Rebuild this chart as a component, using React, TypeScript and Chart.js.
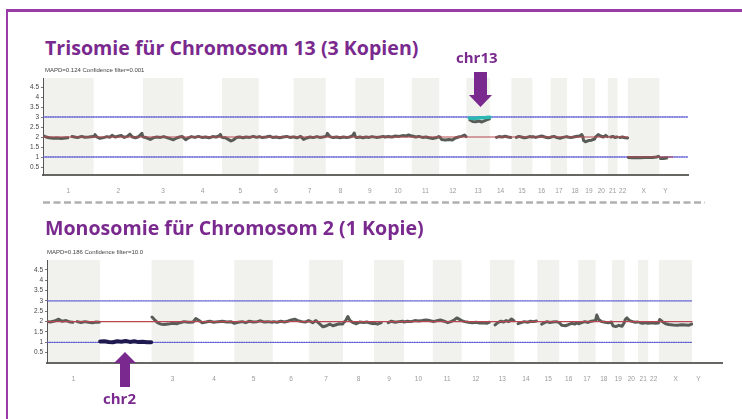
import React, { useEffect, useRef } from "react";
import { Chart, registerables } from "chart.js";

Chart.register(...registerables);

// ---------- shared axis data ----------
const chromosomes = ["1", "2", "3", "4", "5", "6", "7", "8", "9", "10", "11", "12", "13", "14", "15", "16", "17", "18", "19", "20", "21", "22", "X", "Y"];
const chromLengthsMb = [249, 243, 198, 191, 181, 171, 159, 146, 141, 136, 135, 134, 115, 107, 103, 90, 81, 78, 59, 63, 48, 51, 155, 59];
const yTickValues = [0.5, 1, 1.5, 2, 2.5, 3, 3.5, 4, 4.5];
const genomeAxisMaxMb = 3175;

// ---------- chart 1: trisomy 13 ----------
const trisomyPos = [
  3, 15, 30, 50, 70, 90, 110, 122, 128, 143, 155, 170, 190, 205, 225, 246,
  251, 256, 265, 280, 298, 315, 330, 340, 355, 370, 385, 400, 415, 428, 440, 455, 470, 487, 491,
  495, 510, 528, 545, 560, 578, 595, 610, 625, 642, 658, 672, 686,
  693, 702, 715, 730, 748, 765, 782, 800, 818, 835, 852, 866, 873, 879,
  884, 898, 912, 925, 938, 952, 968, 985, 1000, 1018, 1035, 1050, 1060,
  1065, 1080, 1098, 1115, 1130, 1148, 1165, 1182, 1200, 1215, 1230,
  1236, 1250, 1268, 1283, 1298, 1315, 1330, 1348, 1362, 1378, 1390,
  1395, 1400, 1412, 1428, 1445, 1462, 1478, 1495, 1510, 1522, 1532, 1537,
  1545, 1560, 1575, 1590, 1605, 1620, 1640, 1660, 1675,
  1683, 1700, 1718, 1735, 1752, 1770, 1788, 1800, 1812,
  1818, 1835, 1850, 1868, 1885, 1900, 1918, 1935, 1948,
  1953, 1962, 1980, 1998, 2015, 2030, 2045, 2060, 2075, 2082, 2090,
  2102, 2115, 2130, 2145, 2160, 2175, 2190, 2197, 2210,
  2232, 2245, 2260, 2275, 2290, 2303, 2318,
  2330, 2342, 2355, 2368, 2382, 2395, 2407,
  2412, 2425, 2440, 2455, 2470, 2485, 2497,
  2502, 2515, 2530, 2545, 2560, 2578,
  2583, 2598, 2612, 2628, 2642, 2652, 2657,
  2661, 2670, 2685, 2700, 2715,
  2720, 2733, 2745, 2758, 2770, 2778, 2786,
  2795, 2805, 2815, 2826, 2832,
  2840, 2852, 2865, 2878, 2880,
  2882, 2900, 2920, 2940, 2960, 2980, 3000, 3020, 3030, 3036,
  3040, 3055, 3070,
];
const trisomyCN = [
  2.06, 2.0, 1.96, 1.94, 1.95, 1.93, 1.95, 1.96, null, 2.02, 2.0, 1.97, 2.03, 1.99, 2.0, 2.02,
  2.02, 2.12, 2.0, 1.93, 1.97, 2.02, 1.99, 2.08, 2.0, 2.04, 2.08, 1.98, 2.03, 2.14, 2.0, 1.96, 2.01, 2.18, 2.02,
  2.0, 1.96, 1.88, 1.97, 2.0, 1.98, 2.02, 1.97, 1.92, 1.86, 1.95, 2.0, 2.02,
  1.95, 1.86, 1.95, 2.02, 1.98, 2.03, 1.98, 2.0, 1.96, 2.02, 2.0, 2.05, 2.13, 2.0,
  1.98, 1.96, 1.88, 1.8, 1.86, 1.97, 2.0, 1.96, 2.0, 1.98, 2.03, 1.99, 2.0,
  2.02, 1.97, 2.0, 2.04, 1.98, 2.0, 1.96, 2.0, 2.03, 1.98, 2.0,
  2.0, 1.96, 2.03, 1.88, 1.95, 2.0, 1.97, 2.02, 1.98, 2.0, 2.03,
  2.05, 2.18, 2.02, 1.97, 2.0, 1.96, 2.0, 1.97, 2.0, 2.05, 2.2, 2.02,
  1.97, 2.0, 1.96, 2.0, 1.98, 2.02, 1.98, 2.0, 2.03,
  2.0, 2.03, 2.0, 2.05, 2.03, 2.07, 2.05, 2.1, 2.05,
  2.05, 2.0, 2.03, 1.98, 2.0, 1.96, 1.93, 1.96, 2.02,
  2.0, 1.88, 1.85, 1.88, 1.85, 1.95, 2.0, 2.03, 2.1, 2.02, null,
  2.85, 2.78, 2.76, 2.8, 2.75, 2.82, 2.88, 2.9, null,
  1.98, 2.02, 2.0, 2.04, 2.0, 1.98, null,
  1.98, 2.03, 2.0, 1.96, 1.98, 2.02, 2.0,
  2.02, 1.98, 2.02, 2.05, 2.0, 1.96, 1.98,
  2.0, 2.03, 1.97, 1.94, 1.98, 2.02,
  2.0, 1.97, 2.0, 2.04, 2.05, 2.12, 2.03,
  1.82, 1.76, 1.82, 1.84, 1.9,
  2.0, 2.12, 2.05, 2.0, 2.08, 2.02, null,
  2.0, 2.03, 1.98, 2.0, null,
  1.98, 2.0, 1.96, 1.95, null,
  0.97, 0.96, 0.97, 0.96, 0.97, 0.97, 0.98, 1.0, 1.03, null,
  0.92, 0.93, 0.95,
];
const trisomyCallPos = [2098, 2120, 2150, 2180, 2200];
const trisomyCallCN = [2.95, 2.93, 2.96, 2.97, 2.99];
const trisomyRefPos = [0, 2879, 2879, 2879, 3100];
const trisomyRefCN = [2, 2, null, 1, 1];
const trisomyGuidePos = [0, 3175];

// ---------- chart 2: monosomy 2 ----------
const monosomyPos = [
  2, 15, 35, 55, 70, 90, 110, 122, 130, 142, 160, 178, 195, 215, 232, 246, 250,
  494, 505, 520, 535, 550, 570, 590, 610, 625, 645, 665, 688,
  692, 700, 715, 730, 748, 765, 785, 805, 825, 845, 865, 880,
  884, 900, 918, 935, 952, 970, 988, 1005, 1022, 1040, 1060,
  1065, 1082, 1100, 1118, 1135, 1150, 1165, 1180, 1198, 1215, 1230,
  1236, 1250, 1265, 1280, 1298, 1315, 1330, 1345, 1360, 1375, 1390,
  1395, 1405, 1415, 1425, 1440, 1455, 1470, 1490, 1505, 1520, 1535,
  1540, 1555, 1572, 1588, 1605, 1620, 1638, 1655, 1672,
  1680, 1695, 1712, 1730, 1748, 1765, 1782, 1800, 1813,
  1818, 1835, 1850, 1868, 1885, 1900, 1915, 1928, 1942,
  1950, 1965, 1982, 2000, 2018, 2035, 2052, 2068, 2080, 2095,
  2108, 2120, 2135, 2148, 2160, 2172, 2185, 2196, 2205,
  2216, 2230, 2245, 2260, 2275, 2290, 2302, 2315,
  2327, 2340, 2352, 2365, 2380, 2395,
  2410, 2422, 2438, 2452, 2468, 2482, 2495,
  2500, 2515, 2530, 2545, 2560, 2575,
  2580, 2586, 2595, 2610, 2625, 2640, 2655,
  2662, 2675, 2690, 2705, 2715,
  2720, 2728, 2740, 2755, 2768, 2778, 2784,
  2790, 2802, 2815, 2826,
  2838, 2850, 2862, 2876,
  2882, 2895, 2910, 2925, 2945, 2965, 2985, 3005, 3020, 3032,
];
const monosomyCN = [
  2.0, 1.98, 2.03, 2.12, 2.02, 2.05, 1.98, 1.97, null, 2.0, 1.96, 2.0, 1.97, 1.95, 1.98, 1.97, null,
  2.22, 2.1, 1.95, 1.88, 1.86, 1.88, 1.92, 1.9, 1.95, 2.0, 1.97, 1.98,
  2.05, 2.15, 2.05, 1.95, 1.98, 2.02, 1.97, 2.0, 2.02, 1.98, 2.0, 1.92,
  1.93, 1.97, 2.0, 1.95, 2.02, 1.98, 2.0, 2.04, 1.98, 2.0, 1.97,
  2.0, 1.97, 2.02, 1.98, 2.03, 2.08, 2.12, 2.05, 2.0, 1.98, 2.05,
  2.02, 1.95, 2.05, 1.92, 1.75, 1.8, 1.88, 1.8, 1.85, 1.9, 1.88,
  1.95, 2.05, 2.25, 2.05, 1.95, 1.9, 1.98, 1.96, 1.98, 1.93, 1.9,
  1.92, 1.88, 1.95, null, 1.95, 2.02, 1.97, 2.0, 2.02,
  1.98, 2.02, 2.0, 2.05, 2.03, 2.05, 2.08, 2.05, 2.02,
  2.0, 2.05, 2.08, 2.02, 1.95, 2.0, 2.08, 2.18, 2.1,
  2.05, 2.0, 1.97, 1.95, 1.97, 1.93, 1.95, 1.92, 1.97, null,
  1.84, 1.95, 2.02, 1.98, 2.05, 2.0, 2.13, 2.05, null,
  1.9, 1.95, 2.0, 1.97, 2.02, 2.0, 2.03, null,
  1.88, 1.95, 2.0, 1.96, 1.98, 2.0,
  1.95, 1.82, 1.8, 1.85, 1.92, 1.88, 1.95,
  1.9, 1.95, 2.0, 1.96, 2.02, 2.05,
  2.05, 2.32, 2.1, 2.0, 1.97, 1.95, 1.98,
  1.8, 1.76, 1.82, 1.78, 1.95,
  2.1, 2.18, 2.05, 2.0, 1.97, 1.98, null,
  1.95, 1.92, 1.95, 1.92,
  1.93, 1.95, 1.92, 1.93,
  2.1, 2.0, 1.9, 1.86, 1.84, 1.83, 1.85, 1.84, 1.83, 1.88,
];
const monosomyCallPos = [250, 270, 290, 310, 330, 350, 370, 390, 410, 430, 450, 470, 490];
const monosomyCallCN = [1.04, 1.05, 1.02, 1.0, 1.05, 1.03, 1.06, 1.02, 1.05, 1.01, 1.03, 1.0, 1.0];
const monosomyRefPos = [0, 3034];
const monosomyRefCN = [2, 2];
const monosomyGuidePos = [0, 3034];

// ---------- helpers ----------
const chromStarts = chromLengthsMb.map((_, i) => chromLengthsMb.slice(0, i).reduce((a, b) => a + b, 0));
const chromMids = chromStarts.map((s, i) => s + chromLengthsMb[i] / 2);
const pts = (xs: number[], ys: (number | null)[]) => xs.map((x, i) => ({ x, y: ys[i] }));
const flat = (xs: number[], v: number) => xs.map((x) => ({ x, y: v }));

const bandsPlugin = {
  id: "chromBands",
  beforeDraw(chart: any) {
    const { ctx, chartArea, scales } = chart;
    const xs = scales.x;
    ctx.save();
    ctx.fillStyle = "#f1f1ee";
    chromLengthsMb.forEach((len, i) => {
      if (i % 2 === 0) {
        const x0 = xs.getPixelForValue(chromStarts[i]);
        const x1 = xs.getPixelForValue(chromStarts[i] + len);
        ctx.fillRect(x0, chartArea.top, x1 - x0, chartArea.bottom - chartArea.top);
      }
    });
    ctx.restore();
  },
};

type Cfg = {
  yMin: number;
  yMax: number;
  yAxisWidth: number;
  xAxisHeight: number;
  pad: { left: number; right: number; top: number; bottom: number };
  datasets: any[];
};

function makeChart(canvas: HTMLCanvasElement, cfg: Cfg) {
  return new Chart(canvas, {
    type: "line",
    data: { datasets: cfg.datasets },
    plugins: [bandsPlugin],
    options: {
      animation: false,
      responsive: false,
      devicePixelRatio: 1,
      parsing: true,
      layout: { padding: cfg.pad },
      elements: { point: { radius: 0 }, line: { tension: 0, borderJoinStyle: "round", borderCapStyle: "round" } },
      plugins: { legend: { display: false }, tooltip: { enabled: false }, title: { display: false } },
      scales: {
        x: {
          type: "linear",
          min: 0,
          max: genomeAxisMaxMb,
          afterBuildTicks: (s: any) => {
            s.ticks = chromMids.map((v) => ({ value: v }));
          },
          afterFit: (s: any) => {
            s.height = cfg.xAxisHeight;
          },
          grid: { display: false },
          border: { display: true, color: "#666663", width: 2 },
          ticks: {
            autoSkip: false,
            maxRotation: 0,
            minRotation: 0,
            padding: 4,
            color: "#9a9a9a",
            font: { size: 6.5, family: "Liberation Sans" },
            callback: (_v: any, i: number) => chromosomes[i],
          },
        },
        y: {
          type: "linear",
          min: cfg.yMin,
          max: cfg.yMax,
          afterBuildTicks: (s: any) => {
            s.ticks = yTickValues.map((v) => ({ value: v }));
          },
          afterFit: (s: any) => {
            s.width = cfg.yAxisWidth;
          },
          grid: { display: true, drawOnChartArea: false, drawTicks: true, tickLength: 2, color: "#777", lineWidth: 1 },
          border: { display: true, color: "#555", width: 1 },
          ticks: {
            padding: 2,
            color: "#444",
            font: { size: 6.5, family: "Liberation Sans" },
            callback: (v: any) => String(v),
          },
        },
      },
    } as any,
  });
}

const blueGuide = { borderColor: "#5d5bd2", borderWidth: 1.3, borderDash: [1.2, 1.2], pointRadius: 0, order: 9 };
const grayData = { borderColor: "#585c57", borderWidth: 3, pointRadius: 0, order: 5, spanGaps: false };
const redRef = { borderColor: "#b8474f", borderWidth: 1.2, pointRadius: 0, order: 2, spanGaps: false };

export default function App() {
  const c1 = useRef<HTMLCanvasElement>(null);
  const c2 = useRef<HTMLCanvasElement>(null);

  useEffect(() => {
    const ch1 = makeChart(c1.current!, {
      yMin: 0.1,
      yMax: 4.95,
      yAxisWidth: 43,
      xAxisHeight: 21,
      pad: { left: 0, right: 54, top: 16, bottom: 0 },
      datasets: [
        { ...blueGuide, data: flat(trisomyGuidePos, 3) },
        { ...blueGuide, data: flat(trisomyGuidePos, 1) },
        { ...grayData, data: pts(trisomyPos, trisomyCN) },
        { borderColor: "#2bb7b2", borderWidth: 3.5, pointRadius: 0, order: 3, data: pts(trisomyCallPos, trisomyCallCN) },
        { ...redRef, data: pts(trisomyRefPos, trisomyRefCN) },
      ],
    });
    const ch2 = makeChart(c2.current!, {
      yMin: 0,
      yMax: 4.98,
      yAxisWidth: 47,
      xAxisHeight: 18,
      pad: { left: 0, right: 20, top: 14, bottom: 0 },
      datasets: [
        { ...blueGuide, data: flat(monosomyGuidePos, 3) },
        { ...blueGuide, data: flat(monosomyGuidePos, 1) },
        { ...grayData, data: pts(monosomyPos, monosomyCN) },
        { ...redRef, data: pts(monosomyRefPos, monosomyRefCN) },
        { borderColor: "#1e1a50", borderWidth: 4, pointRadius: 0, order: 1, data: pts(monosomyCallPos, monosomyCallCN) },
      ],
    });
    return () => {
      ch1.destroy();
      ch2.destroy();
    };
  }, []);

  const purple = "#7a2a8e";
  const titleStyle: React.CSSProperties = {
    position: "absolute",
    fontFamily: '"Open Sans", sans-serif',
    fontWeight: 700,
    fontSize: 19.6,
    lineHeight: 1,
    color: purple,
    whiteSpace: "nowrap",
    letterSpacing: 0,
  };
  const noteStyle: React.CSSProperties = {
    position: "absolute",
    fontFamily: '"Liberation Sans", sans-serif',
    fontSize: 6,
    lineHeight: 1,
    color: "#444",
    whiteSpace: "nowrap",
  };
  const labelStyle: React.CSSProperties = {
    position: "absolute",
    fontFamily: '"Open Sans", sans-serif',
    fontWeight: 700,
    fontSize: 15,
    lineHeight: 1,
    color: purple,
    whiteSpace: "nowrap",
  };

  return (
    <div style={{ position: "absolute", left: 0, top: 0, width: 742, height: 419, overflow: "hidden", background: "#fff" }}>
      <div
        style={{
          position: "absolute",
          left: 6,
          top: 9,
          width: 800,
          height: 500,
          boxSizing: "border-box",
          borderTop: "3px solid #9a3ca6",
          borderLeft: "2.5px solid #9a3ca6",
        }}
      />
      <div style={{ ...titleStyle, left: 45, top: 37.5 }}>Trisomie für Chromosom 13 (3 Kopien)</div>
      <canvas ref={c1} width={742} height={134} style={{ position: "absolute", left: 0, top: 62, width: 742, height: 134 }} />
      <div style={{ ...noteStyle, left: 45, top: 67 }}>MAPD=0.124 Confidence filter=0.001</div>

      <svg width={742} height={419} style={{ position: "absolute", left: 0, top: 0 }}>
        <line x1={43} y1={202.5} x2={705} y2={202.5} stroke="#b0b0b0" strokeWidth={2.5} strokeDasharray="7 3.5" />
        <polygon points="474,72 487,72 487,95 492,95 480.5,107 469,95 474,95" fill={purple} />
      </svg>

      <div style={{ ...labelStyle, left: 456, top: 50 }}>chr13</div>

      <div style={{ ...titleStyle, left: 45, top: 217.5 }}>Monosomie für Chromosom 2 (1 Kopie)</div>
      <canvas ref={c2} width={742} height={135} style={{ position: "absolute", left: 0, top: 246, width: 742, height: 135 }} />
      <div style={{ ...noteStyle, left: 47, top: 249 }}>MAPD=0.186 Confidence filter=10.0</div>

      <svg width={742} height={419} style={{ position: "absolute", left: 0, top: 0 }}>
        <polygon points="120,387 130,387 130,363 136,363 125,352 114,363 120,363" fill={purple} />
      </svg>
      <div style={{ ...labelStyle, left: 103, top: 391 }}>chr2</div>
    </div>
  );
}
